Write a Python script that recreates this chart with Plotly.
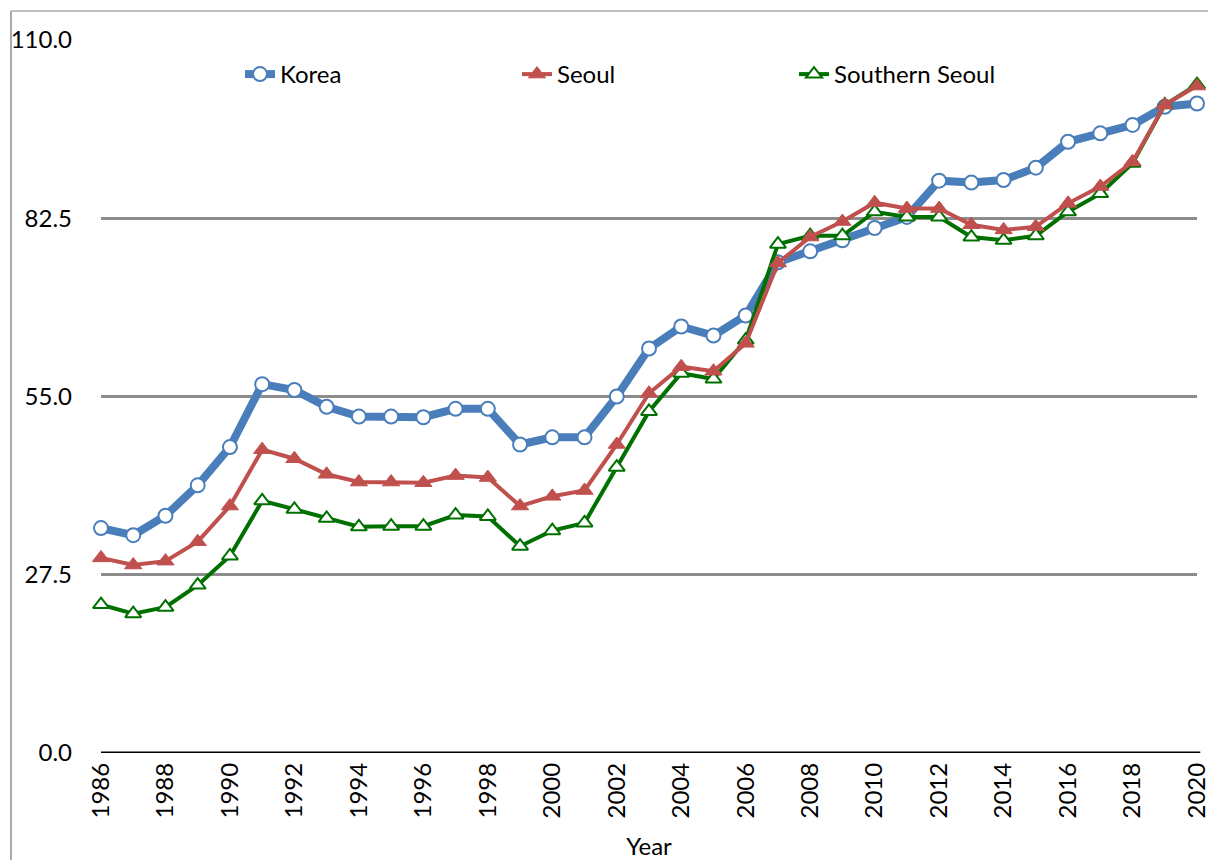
import plotly.graph_objects as go

years = list(range(1986, 2021))
korea = [34.7, 33.6, 36.6, 41.3, 47.2, 56.9, 56.0, 53.4, 51.9, 51.9, 51.8, 53.1, 53.1,
         47.6, 48.7, 48.7, 55.0, 62.4, 65.8, 64.4, 67.5, 75.7, 77.4, 79.1, 81.0, 82.7,
         88.3, 88.0, 88.4, 90.3, 94.3, 95.6, 96.9, 99.7, 100.2]
seoul = [30.1, 29.0, 29.6, 32.6, 38.1, 46.8, 45.4, 43.0, 41.8, 41.8, 41.7, 42.8, 42.5,
         38.1, 39.6, 40.5, 47.6, 55.5, 59.6, 58.9, 63.2, 75.6, 79.6, 82.0, 84.9, 84.0,
         84.0, 81.5, 80.7, 81.2, 84.8, 87.4, 91.2, 100.0, 102.9]
southern = [22.9, 21.5, 22.5, 25.9, 30.4, 38.9, 37.6, 36.2, 34.9, 35.0, 35.0, 36.7, 36.5,
            31.9, 34.3, 35.5, 44.1, 52.7, 58.6, 57.7, 63.7, 78.5, 79.8, 79.8, 83.5, 82.7,
            82.7, 79.6, 79.1, 79.8, 83.5, 86.3, 91.0, 100.0, 103.1]
y_ticks = [0.0, 27.5, 55.0, 82.5, 110.0]
x_ticks = list(range(1986, 2021, 2))

FONT = "Lato"
fig = go.Figure()
fig.add_trace(go.Scatter(
    x=years, y=korea, name="Korea", mode="lines+markers", legendrank=1,
    line=dict(color="#4a7ebb", width=8),
    marker=dict(symbol="circle", size=14, color="white", line=dict(color="#4a7ebb", width=2)),
    cliponaxis=False))
fig.add_trace(go.Scatter(
    x=years, y=southern, name="Southern Seoul", mode="lines+markers", legendrank=3,
    line=dict(color="#007000", width=4),
    marker=dict(symbol="triangle-up", size=14, color="white", line=dict(color="#007000", width=2)),
    cliponaxis=False))
fig.add_trace(go.Scatter(
    x=years, y=seoul, name="Seoul", mode="lines+markers", legendrank=2,
    line=dict(color="#c0504d", width=4),
    marker=dict(symbol="triangle-up", size=15, color="#c0504d", line=dict(color="#c0504d", width=1)),
    cliponaxis=False))

L, T, W, H = 101, 40, 1096, 713
def px(xp):
    return (xp - L) / W
def py(yp):
    return 1 - (yp - T) / H

fig.update_layout(
    width=1208, height=860,
    margin=dict(l=L, r=1208 - L - W, t=T, b=860 - T - H, autoexpand=False),
    paper_bgcolor="white", plot_bgcolor="white",
    font=dict(family=FONT, size=24, color="black"),
    showlegend=True,
    legend=dict(orientation="h", x=px(240), y=py(52), xanchor="left", yanchor="top",
                entrywidth=232, entrywidthmode="pixels",
                font=dict(family=FONT, size=24), bgcolor="rgba(0,0,0,0)"),
    xaxis=dict(range=[1986, 2020], tickvals=x_ticks, ticktext=[str(v) for v in x_ticks],
               tickangle=-90, showgrid=False, zeroline=False, showline=False,
               ticks="", ticklen=0, tickfont=dict(family=FONT, size=24),
               ticklabelstandoff=4, ticklabeloverflow="allow",
               title=dict(text="Year", font=dict(family=FONT, size=24), standoff=24)),
    yaxis=dict(range=[0, 110], tickvals=y_ticks, ticktext=[f"{v:.1f}" for v in y_ticks],
               showgrid=True, gridcolor="#8c8c8c", gridwidth=2.5, zeroline=False,
               showline=False, ticks="", tickfont=dict(family=FONT, size=24),
               ticklabelstandoff=28, ticklabeloverflow="allow"),
    shapes=[
        dict(type="line", xref="paper", yref="y", x0=0, x1=1.003, y0=0, y1=0,
             line=dict(color="black", width=3)),
        dict(type="line", xref="paper", yref="paper", x0=px(11), x1=px(11), y0=py(11), y1=py(870),
             line=dict(color="#aaaaaa", width=2)),
        dict(type="line", xref="paper", yref="paper", x0=px(11), x1=px(1215), y0=py(11), y1=py(11),
             line=dict(color="#aaaaaa", width=1.5)),
    ],
)
fig.write_html("out.html", config={"displayModeBar": False},
               post_script="document.body.style.margin='0';document.body.style.overflow='hidden';")
